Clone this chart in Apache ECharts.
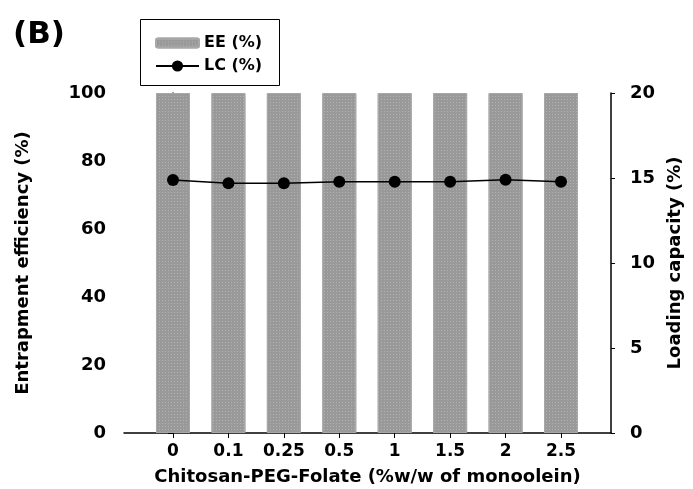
<!DOCTYPE html>
<html><head><meta charset="utf-8">
<script src="https://cdn.jsdelivr.net/npm/echarts@6/dist/echarts.min.js"></script>
<style>html,body{margin:0;padding:0;background:#fff}#c{width:693px;height:489px}</style>
</head><body><div id="c"></div>
<script>
const categories = ['0','0.1','0.25','0.5','1','1.5','2','2.5'];
const eeValues = [100,100,100,100,100,100,100,100];
const lcValues = [14.88,14.69,14.69,14.78,14.78,14.78,14.9,14.78];
const leftTicks = [0,20,40,60,80,100];
const rightTicks = [0,5,10,15,20];

const pos = categories.map((c,i)=>i);
const font = 'DejaVu Sans';
const chart = echarts.init(document.getElementById('c'));
chart.setOption({
  animation:false,
  backgroundColor:'#fff',
  title:{text:'(B)',left:8,top:14,textStyle:{fontFamily:font,fontWeight:'bold',fontSize:31,color:'#000'}},
  graphic:[{type:'rect',shape:{x:140.5,y:19.5,width:139,height:66},style:{fill:'#fff',stroke:'#000',lineWidth:1},z:50}],
  legend:[
    {data:['EE (%)'],left:150,top:30,itemWidth:43,itemHeight:9,itemGap:10,z:60,
     textStyle:{fontFamily:font,fontWeight:'bold',fontSize:16,color:'#000'}},
    {data:['LC (%)'],left:150,top:53,itemWidth:43,itemHeight:14,z:60,
     textStyle:{fontFamily:font,fontWeight:'bold',fontSize:16,color:'#000'}}
  ],
  grid:{left:124,right:82,top:93,bottom:56,outerBoundsMode:'none',containLabel:false},
  xAxis:{type:'value',min:-0.884,max:7.902,
    name:'Chitosan-PEG-Folate (%w/w of monoolein)',nameLocation:'middle',nameGap:35,
    nameTextStyle:{fontFamily:font,fontWeight:'bold',fontSize:18,color:'#000'},
    splitLine:{show:false},
    axisLine:{lineStyle:{color:'#000',width:1.5}},
    axisTick:{show:true,customValues:pos,length:5,lineStyle:{color:'#000'}},
    axisLabel:{customValues:pos,formatter:v=>categories[Math.round(v)],margin:10,
      fontFamily:font,fontWeight:'bold',fontSize:17,color:'#000'}},
  yAxis:[
    {type:'value',min:0,max:100,interval:20,
     name:'Entrapment efficiency (%)',nameLocation:'middle',nameGap:92,
     nameTextStyle:{fontFamily:font,fontWeight:'bold',fontSize:18,color:'#000'},
     splitLine:{show:false},
     axisLine:{show:true,lineStyle:{color:'#000',width:1.5}},
     axisTick:{show:true,length:5,lineStyle:{color:'#000'}},
     axisLabel:{margin:18,fontFamily:font,fontWeight:'bold',fontSize:18,color:'#000'}},
    {type:'value',min:0,max:20,interval:5,position:'right',
     name:'Loading capacity (%)',nameLocation:'middle',nameGap:55,
     nameTextStyle:{fontFamily:font,fontWeight:'bold',fontSize:18,color:'#000'},
     splitLine:{show:false},
     axisLine:{show:true,lineStyle:{color:'#000',width:1.5}},
     axisTick:{show:true,length:4,lineStyle:{color:'#000'}},
     axisLabel:{margin:19,fontFamily:font,fontWeight:'bold',fontSize:18,color:'#000'}}
  ],
  series:[
    {name:'EE (%)',type:'bar',barWidth:34,yAxisIndex:0,
     data:pos.map((p,i)=>[p,eeValues[i]]),
     itemStyle:{color:'#999999',borderColor:'#a8a8a8',borderWidth:1,
       decal:{symbol:'rect',symbolSize:1,color:'rgba(190,190,190,0.7)',dashArrayX:[1,2],dashArrayY:[1,2]}}},
    {name:'LC (%)',type:'line',yAxisIndex:1,
     data:pos.map((p,i)=>[p,lcValues[i]]),
     symbol:'circle',symbolSize:12,
     lineStyle:{color:'#000',width:1.5},itemStyle:{color:'#000'},z:5}
  ]
});
</script></body></html>
